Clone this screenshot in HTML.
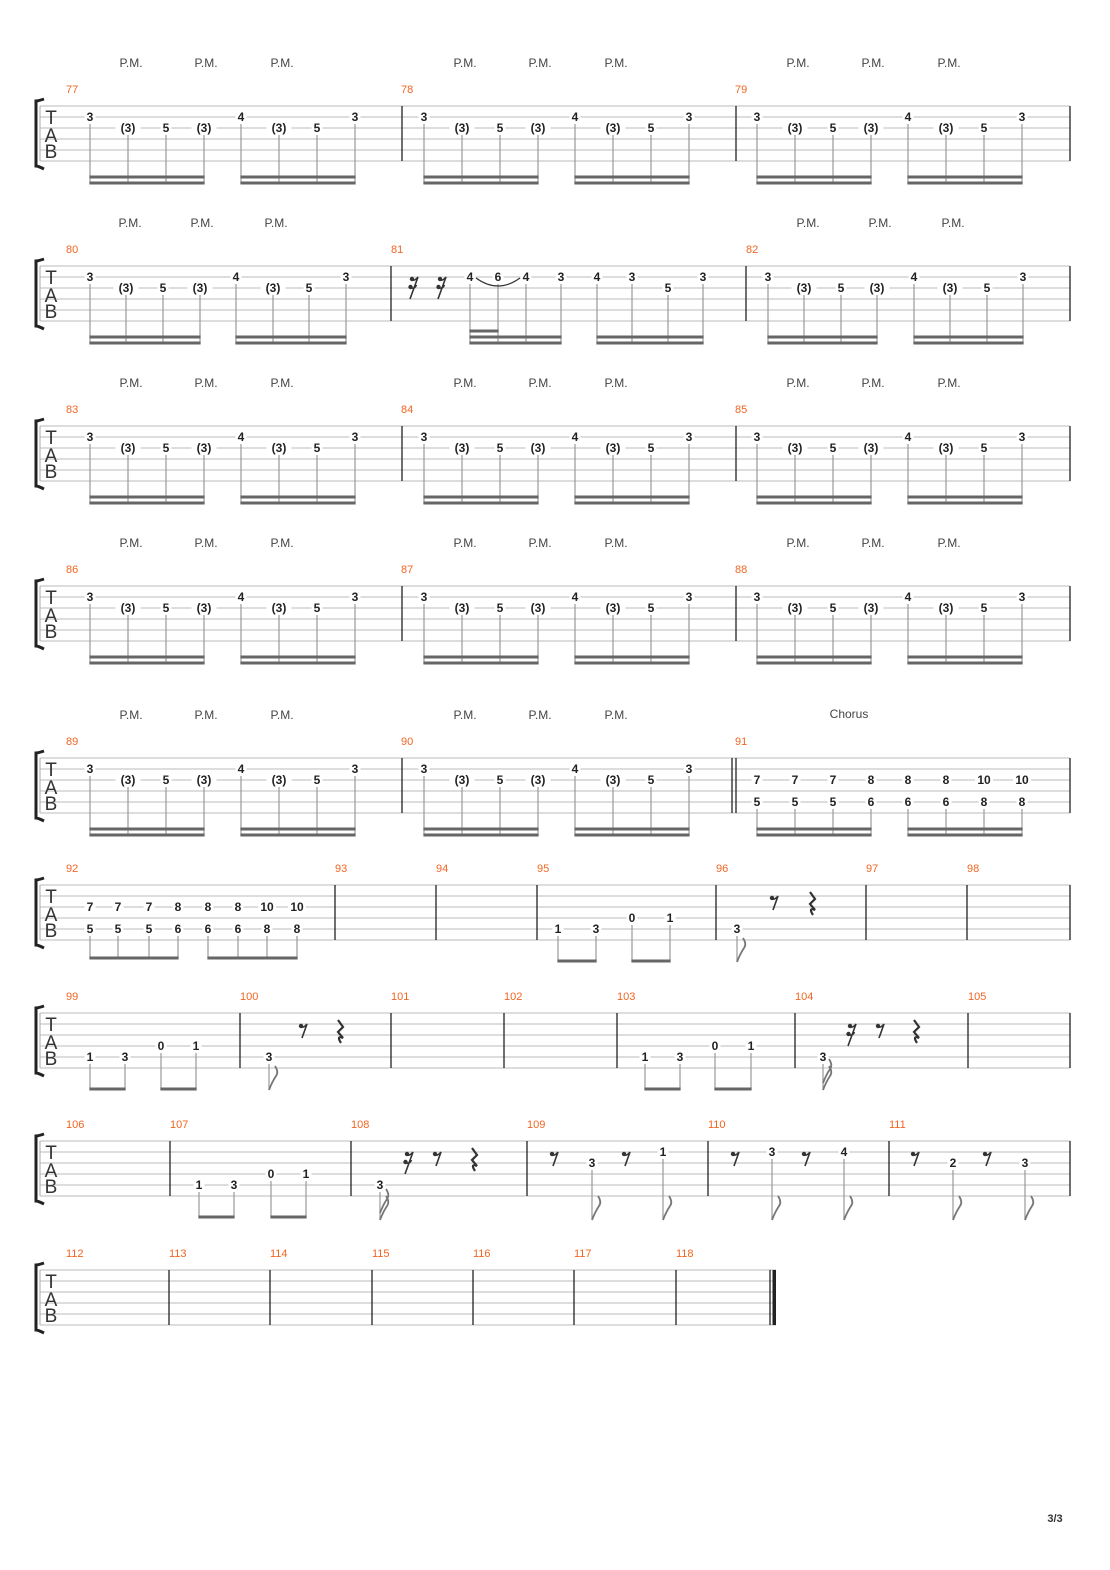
<!DOCTYPE html>
<html><head><meta charset="utf-8"><style>
body{margin:0;background:#fff}
svg{display:block}
.n{font:bold 12px "Liberation Sans",sans-serif;fill:#222;text-anchor:middle;dominant-baseline:central}
.mn{font:11px "Liberation Sans",sans-serif;fill:#f26522}
.pm{font:12px "Liberation Sans",sans-serif;fill:#444;text-anchor:middle}
.tab{font:19px "Liberation Sans",sans-serif;fill:#333;text-anchor:middle}
</style></head><body>
<svg id="s" width="1110" height="1570" xmlns="http://www.w3.org/2000/svg"></svg>
<script>
const S=document.getElementById('s');let h='';
function staff(t,x2){
 for(let i=0;i<6;i++)h+=`<line x1="40" x2="${x2}" y1="${t+i*11}" y2="${t+i*11}" stroke="#bbb" stroke-width="1"/>`;
 h+=`<line x1="40" x2="40" y1="${t}" y2="${t+55}" stroke="#aaa"/>`;
 h+=`<path d="M44 ${t-7} Q38 ${t-5} 36 ${t-5} L36 ${t+60} Q38 ${t+60} 44 ${t+63}" fill="none" stroke="#222" stroke-width="3"/>`;
 h+=`<text class="tab" x="51" y="${t+18}">T</text><text class="tab" x="51" y="${t+36}">A</text><text class="tab" x="51" y="${t+52}">B</text>`;
}
function bar(x,t){h+=`<line x1="${x}" x2="${x}" y1="${t}" y2="${t+55}" stroke="#222" stroke-width="1.3"/>`;}
function mn(x,t,n){h+=`<text class="mn" x="${x}" y="${t-13}">${n}</text>`;}
function note(x,t,l,f){const y=t+l*11;const w=f.length*7+4;h+=`<rect x="${x-w/2}" y="${y-6}" width="${w}" height="12" fill="#fff"/><text class="n" x="${x}" y="${y}">${f}</text>`;}
function stem(x,y1,y2){h+=`<line x1="${x}" x2="${x}" y1="${y1}" y2="${y2}" stroke="#999" stroke-width="1.2"/>`;}
function beam(x1,x2,y){h+=`<rect x="${x1-0.6}" y="${y-1.5}" width="${x2-x1+1.2}" height="3" fill="#666"/>`;}
function pm(x,t){h+=`<text class="pm" x="${x}" y="${t-39}">P.M.</text>`;}
function flag(x,y,n){for(let k=0;k<n;k++){const yy=y-k*7;h+=`<path d="M${x} ${yy} Q${x+3} ${yy-8} ${x+7} ${yy-14} Q${x+10} ${yy-18} ${x+6} ${yy-24}" fill="none" stroke="#777" stroke-width="1.8"/>`;}}
function r8(x,t,n){n=n||1;const y=t+13;for(let k=0;k<n;k++){const yy=y+k*8;h+=`<circle cx="${x-3-k*1.5}" cy="${yy}" r="2.2" fill="#333"/><path d="M${x-3-k*1.5} ${yy+1} Q${x} ${yy+2} ${x+3-k*1.5} ${yy-2}" stroke="#333" stroke-width="1.5" fill="none"/>`;}h+=`<line x1="${x+3}" y1="${y-2}" x2="${x-2-(n-1)*3}" y2="${y+12+(n-1)*8}" stroke="#333" stroke-width="1.6"/>`;}
function r4(x,t){const y=t+7;h+=`<path d="M${x-2} ${y} L${x+3} ${y+7} L${x-2} ${y+12} L${x+3} ${y+18} Q${x-4} ${y+15} ${x+1} ${y+23}" fill="none" stroke="#333" stroke-width="2.2"/>`;}
// pattern A
function patA(t,o){const xs=[90,128,166,204,241,279,317,355],ls=[1,2,2,2,1,2,2,1],fs=['3','(3)','5','(3)','4','(3)','5','3'];
 xs.forEach((x,i)=>{stem(x+o,t+ls[i]*11+7,t+77);note(x+o,t,ls[i],fs[i]);});
 beam(90+o,204+o,t+71);beam(90+o,204+o,t+77);beam(241+o,355+o,t+71);beam(241+o,355+o,t+77);
 pm(131+o,t);pm(206+o,t);pm(282+o,t);}
function sysA(t,n){staff(t,1070);bar(402,t);bar(736,t);bar(1070,t);mn(66,t,n);mn(401,t,n+1);mn(735,t,n+2);patA(t,0);patA(t,334);patA(t,667);}
sysA(106,77);
// system 2
{const t=266;staff(t,1070);bar(391,t);bar(746,t);bar(1070,t);mn(66,t,80);mn(391,t,81);mn(746,t,82);
 function pa(xs,p){const ls=[1,2,2,2,1,2,2,1],fs=['3','(3)','5','(3)','4','(3)','5','3'];xs.forEach((x,i)=>{stem(x,t+ls[i]*11+7,t+77);note(x,t,ls[i],fs[i]);});beam(xs[0],xs[3],t+71);beam(xs[0],xs[3],t+77);beam(xs[4],xs[7],t+71);beam(xs[4],xs[7],t+77);p.forEach(x=>pm(x,t));}
 pa([90,126,163,200,236,273,309,346],[130,202,276]);pa([768,804,841,877,914,950,987,1023],[808,880,953]);
 r8(415,t,2);r8(443,t,2);
 const xs=[470,498,526,561,597,632,668,703],ls=[1,1,1,1,1,1,2,1],fs=['4','6','4','3','4','3','5','3'];
 xs.forEach((x,i)=>{stem(x,t+ls[i]*11+7,t+77);});
 h+=`<path d="M476 ${t+12} Q498 ${t+28} 520 ${t+12}" fill="none" stroke="#333" stroke-width="1.2"/>`;
 xs.forEach((x,i)=>note(x,t,ls[i],fs[i]));
 beam(470,498,t+65);beam(470,561,t+71);beam(470,561,t+77);beam(597,703,t+71);beam(597,703,t+77);}
sysA(426,83);sysA(586,86);
// system 5
{const t=758;staff(t,1070);bar(402,t);bar(732,t);bar(736,t);bar(1070,t);mn(66,t,89);mn(401,t,90);mn(735,t,91);patA(t,0);patA(t,334);
 h+=`<text class="pm" x="849" y="${t-40}">Chorus</text>`;
 const xs=[757,795,833,871,908,946,984,1022],a=['7','7','7','8','8','8','10','10'],b=['5','5','5','6','6','6','8','8'];
 xs.forEach((x,i)=>{stem(x,t+51,t+77);note(x,t,2,a[i]);note(x,t,4,b[i]);});
 beam(757,871,t+71);beam(757,871,t+77);beam(908,1022,t+71);beam(908,1022,t+77);}
// system 6
{const t=885;staff(t,1070);[335,436,537,716,866,967,1070].forEach(x=>bar(x,t));
 [[66,92],[335,93],[436,94],[537,95],[716,96],[866,97],[967,98]].forEach(([x,n])=>mn(x,t,n));
 const xs=[90,118,149,178,208,238,267,297],a=['7','7','7','8','8','8','10','10'],b=['5','5','5','6','6','6','8','8'];
 xs.forEach((x,i)=>{stem(x,t+51,t+74);note(x,t,2,a[i]);note(x,t,4,b[i]);});beam(90,178,t+73);beam(208,297,t+73);
 [[558,4,'1'],[596,4,'3'],[632,3,'0'],[670,3,'1']].forEach(([x,l,f])=>{stem(x,t+l*11+7,t+77);note(x,t,l,f);});beam(558,596,t+76);beam(632,670,t+76);
 stem(737,t+51,t+77);flag(737,t+77,1);note(737,t,4,'3');r8(775,t);r4(812,t);}
// system 7
{const t=1013;staff(t,1070);[240,391,504,617,795,968,1070].forEach(x=>bar(x,t));
 [[66,99],[240,100],[391,101],[504,102],[617,103],[795,104],[968,105]].forEach(([x,n])=>mn(x,t,n));
 function g(xs){[[xs[0],4,'1'],[xs[1],4,'3'],[xs[2],3,'0'],[xs[3],3,'1']].forEach(([x,l,f])=>{stem(x,t+l*11+7,t+77);note(x,t,l,f);});beam(xs[0],xs[1],t+76);beam(xs[2],xs[3],t+76);}
 g([90,125,161,196]);g([645,680,715,751]);
 stem(269,t+51,t+77);flag(269,t+77,1);note(269,t,4,'3');r8(304,t);r4(340,t);
 stem(823,t+51,t+77);flag(823,t+77,2);note(823,t,4,'3');r8(853,t,2);r8(881,t);r4(916,t);}
// system 8
{const t=1141;staff(t,1070);[170,351,527,708,889,1070].forEach(x=>bar(x,t));
 [[66,106],[170,107],[351,108],[527,109],[708,110],[889,111]].forEach(([x,n])=>mn(x,t,n));
 [[199,4,'1'],[234,4,'3'],[271,3,'0'],[306,3,'1']].forEach(([x,l,f])=>{stem(x,t+l*11+7,t+77);note(x,t,l,f);});beam(199,234,t+76);beam(271,306,t+76);
 stem(380,t+51,t+79);flag(380,t+79,2);note(380,t,4,'3');r8(410,t,2);r8(438,t);r4(474,t);
 function nf(x,l,f){stem(x,t+l*11+7,t+79);flag(x,t+79,1);note(x,t,l,f);}
 r8(555,t);nf(592,2,'3');r8(627,t);nf(663,1,'1');
 r8(736,t);nf(772,1,'3');r8(807,t);nf(844,1,'4');
 r8(916,t);nf(953,2,'2');r8(988,t);nf(1025,2,'3');}
// system 9
{const t=1270;staff(t,776);[169,270,372,473,574,676].forEach(x=>bar(x,t));
 [[66,112],[169,113],[270,114],[372,115],[473,116],[574,117],[676,118]].forEach(([x,n])=>mn(x,t,n));
 bar(770,t);h+=`<rect x="772.5" y="${t}" width="3.5" height="55" fill="#222"/>`;}
h+=`<text x="1055" y="1522" style="font:bold 11px 'Liberation Sans',sans-serif;fill:#333" text-anchor="middle">3/3</text>`;
S.innerHTML=h;
</script>
</body></html>
